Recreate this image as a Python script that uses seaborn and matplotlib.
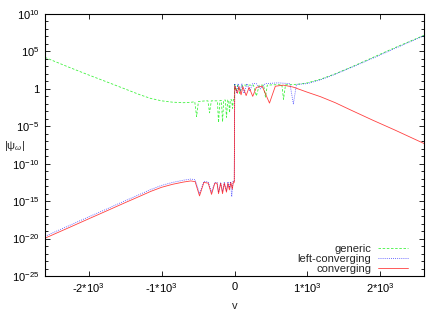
import numpy as np
import pandas as pd
import matplotlib
matplotlib.use("Agg")
import matplotlib.pyplot as plt
import matplotlib.ticker as mticker
import seaborn as sns

# values (v, log10 |psi|)
generic_v = [-2600, -2300, -2000, -1750, -1500, -1300, -1150, -1000, -850, -700, -600, -545,
             -520, -495, -400, -365, -342, -318, -260, -235, -219, -200, -180, -164, -148,
             -125, -110, -92, -80, -68, -56, -40, -27, -15, -3, 3, 20, 45, 70, 110, 150, 200,
             260, 300, 340, 400, 425, 450, 550, 650, 672, 700, 770, 904, 1000, 1178, 1380, 1600,
             1900, 2200, 2600]
generic_y = [4.2, 3.0, 1.85, 0.92, -0.02, -0.78, -1.28, -1.6, -1.78, -1.85, -1.8, -1.72,
             -3.7, -1.7, -1.6, -1.6, -3.2, -1.6, -1.6, -1.6, -4.5, -1.55, -1.55, -4.4, -1.5,
             -1.5, -3.8, -1.5, -1.5, -3.2, -1.45, -1.45, -2.6, -1.4, -1.4, 0.6, -0.3, 0.5, -0.6, 0.5, 0.5, 0.5,
             0.5, -0.95, 0.5, 0.5, -1.1, 0.5, 0.55, 0.55, -1.4, 0.55, 0.55, 0.65, 0.8, 1.28, 2.0, 2.9,
             4.2, 5.5, 7.15]

left_v = [-2600, -2300, -2000, -1800, -1500, -1300, -1150, -1000, -850, -700, -600, -540,
          -480, -420, -360, -315, -270, -240, -219, -190, -164, -140, -110, -90, -70, -55,
          -38, -20, -3, 3, 30, 50, 80, 100, 130, 170, 210, 250, 300, 356, 420, 600, 760,
          808, 850, 1000, 1178, 1380, 1600, 1900, 2200, 2600]
left_y = [-19.7, -18.4, -17.1, -16.25, -14.95, -14.1, -13.45, -12.9, -12.5, -12.2, -12.05, -12.15,
          -14.0, -12.35, -12.45, -13.8, -12.5, -12.5, -13.8, -12.5, -13.7, -12.5, -13.6, -12.4, -13.2, -12.4,
          -14.4, -12.3, -12.3, 0.7, -0.5, 0.7, -0.3, 0.7, -0.6, 0.7, -0.3, 0.7, 0.7, 0.0, 0.7, 0.8, 0.7,
          -2.0, 0.6, 0.7, 1.2, 1.95, 2.85, 4.1, 5.4, 7.1]

conv_v = [-2600, -2300, -2000, -1800, -1500, -1300, -1150, -1000, -850, -700, -600, -540,
          -480, -420, -360, -315, -270, -240, -219, -190, -164, -140, -110, -90, -70, -50,
          -30, -15, -3, 3, 40, 60, 90, 115, 160, 200, 250, 300, 380, 480, 560, 670, 800,
          1000, 1178, 1380, 1600, 1900, 2200, 2600]
conv_y = [-19.95, -18.66, -17.36, -16.5, -15.2, -14.35, -13.7, -13.15, -12.75, -12.45, -12.3, -12.4,
          -14.3, -12.5, -12.6, -14.1, -12.6, -12.6, -14.0, -12.6, -14.0, -12.6, -13.8, -12.6, -13.5, -12.5,
          -13.4, -12.4, -12.5, 0.4, -0.6, 0.3, -0.8, 0.3, -0.9, 0.2, -1.0, 0.2, 0.35, -1.9, 0.35, 0.5, 0.25,
          -0.45, -1.04, -1.84, -2.85, -4.2, -5.5, -7.3]

x_ticks = [-2000, -1000, 0, 1000, 2000]
x_labels = ["-2*10$^3$", "-1*10$^3$", "0", "1*10$^3$", "2*10$^3$"]
y_exps = [-25, -20, -15, -10, -5, 0, 5, 10]

sns.set_style("ticks")
plt.rcParams["font.family"] = ["Liberation Sans", "DejaVu Sans"]
plt.rcParams["mathtext.fontset"] = "custom"
plt.rcParams["mathtext.rm"] = "Liberation Sans"
plt.rcParams["mathtext.it"] = "Liberation Sans:italic"
plt.rcParams["font.size"] = 8

fig = plt.figure(figsize=(4.43, 3.10), dpi=100)
ax = fig.add_axes([45 / 443, 1 - 276 / 310, 379 / 443, 262 / 310])

series = [
    ("generic", generic_v, generic_y, "#00ee00", (3, 2)),
    ("left-converging", left_v, left_y, "#0000ff", (1, 1.5)),
    ("converging", conv_v, conv_y, "#ff0000", None),
]
for name, v, ly, col, dash in series:
    df = pd.DataFrame({"v": v, "psi": 10.0 ** np.array(ly)})
    kw = dict(dashes=dash) if dash else {}
    sns.lineplot(data=df, x="v", y="psi", ax=ax, color=col, linewidth=0.6,
                 label=name, sort=False, alpha=0.75, **kw)

ax.set_yscale("log")
ax.set_xlim(-2600, 2600)
ax.set_ylim(1e-25, 1e10)
ax.set_xticks(x_ticks)
ax.set_xticklabels(x_labels)
ax.yaxis.set_major_locator(mticker.FixedLocator([10.0 ** e for e in y_exps]))
ax.yaxis.set_minor_locator(mticker.FixedLocator([10.0 ** e for e in range(-25, 11) if e % 5]))
ax.yaxis.set_major_formatter(mticker.FuncFormatter(
    lambda val, pos: "1" if abs(val - 1) < 1e-9 else "10$^{%d}$" % round(np.log10(val))))
ax.yaxis.set_minor_formatter(mticker.NullFormatter())
ax.xaxis.set_minor_locator(mticker.NullLocator())

ax.tick_params(which="both", direction="in", top=True, right=True, colors="black", labelsize=8)
ax.tick_params(which="major", length=3.5, width=0.6, pad=4)
ax.tick_params(which="minor", length=2.2, width=0.6)
for s in ax.spines.values():
    s.set_visible(True)
    s.set_linewidth(0.8)
    s.set_color("black")

ax.set_xlabel("v", fontsize=8)
ax.xaxis.set_label_coords(0.5, -0.095)
ax.set_ylabel("|ψ$_ω$|", rotation=0, fontsize=8)
ax.yaxis.set_label_coords(-0.08, 0.47)

ax.legend(loc="lower right", bbox_to_anchor=(0.963, 0.0), frameon=False, markerfirst=False,
          handlelength=2.7, handletextpad=0.6, labelspacing=0.0, borderpad=0.0,
          borderaxespad=0.2, fontsize=8)

fig.savefig("out.png", dpi=100)
